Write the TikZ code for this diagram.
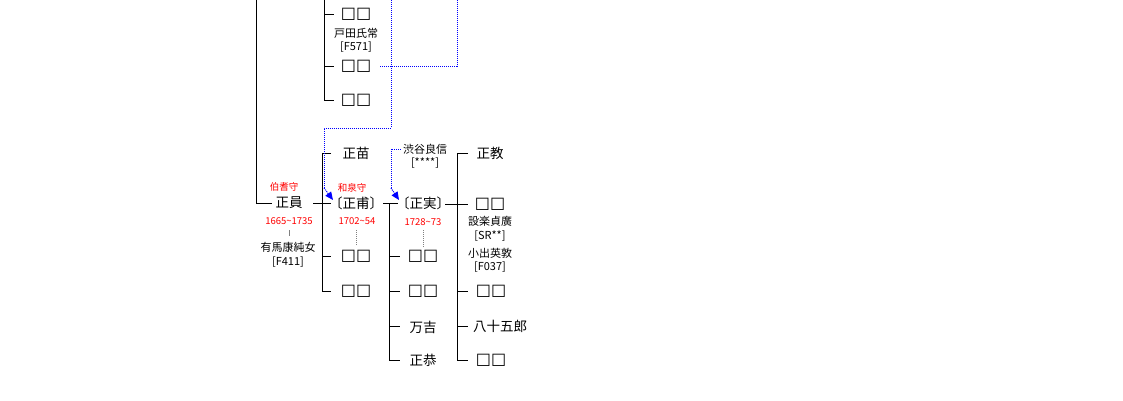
\documentclass[tikz,border=0pt]{standalone}
\usepackage{fontspec}
\newfontfamily\jp{Noto Sans CJK JP}
\newfontfamily\sqf{DejaVu Sans}
\usetikzlibrary{arrows.meta}
\begin{document}
\begin{tikzpicture}[x=1pt,y=-1pt,
 nm/.style={font=\jp\fontsize{13.5}{14}\selectfont, inner sep=0pt},
 sq/.style={font=\sqf\fontsize{16}{16}\selectfont, inner sep=0pt},
 sm/.style={font=\jp\fontsize{11}{12}\selectfont, inner sep=0pt},
 rd/.style={font=\jp\fontsize{9.5}{10}\selectfont, text=red, inner sep=0pt},
 ln/.style={line width=1pt, black},
 lnk/.style={blue, dash pattern=on 1pt off 1pt, line width=1pt},
 gtick/.style={gray, dash pattern=on 1pt off 1pt, line width=1pt},
 arr/.style={-{Triangle[length=8pt,width=7pt]}}]
\useasboundingbox[fill=white] (0,0) rectangle (1123,400);

% ---------- column 1 ----------
\node[nm] (seiin) at (289,203) {正員};
\node[rd] (hoki) at (284,187) {伯耆守};
\node[rd] (d1) at (289,221) {1665\textasciitilde1735};
\node[sm] (w1) at (288,247) {有馬康純女};
\node[sm] (w1id) at (288,262) {[F411]};
\draw[gray,line width=0.8pt] (289,230) -- (289,236);
\coordinate (c1top) at (256,0);
\draw[ln] (c1top) |- (272,203);

% ---------- upper column 2 ----------
\node[sq] (u1) at (356,14) {□□};
\node[sm] (toda) at (356,33) {戸田氏常};
\node[sm] (todaid) at (356,47) {[F571]};
\node[sq] (u2) at (356,66) {□□};
\node[sq] (u3) at (356,100) {□□};
\coordinate (c2top) at (324,0);
\draw[ln] (c2top) -- (324,100) -- (334,100);
\draw[ln] (324,14) -- (334,14);
\draw[ln] (324,66) -- (334,66);
\coordinate (lk1a) at (457,0);
\coordinate (lk1s) at (380,66);
\draw[lnk] (lk1s) -- (457,66) -- (lk1a);

% ---------- column 2 (children of 正員) ----------
\node[nm] (naeo) at (356,153) {正苗};
\node[nm] (masasuke) at (356,203) {〔正甫〕};
\node[rd] (izumi) at (352,188) {和泉守};
\node[rd] (d2) at (357,221) {1702\textasciitilde54};
\node[sq] (m1) at (356,256) {□□};
\node[sq] (m2) at (356,291) {□□};
\draw[gtick] (356,230) -- (356,246);
\draw[ln] (313,203) -- (331,203);
\draw[ln] (331,153) -- (322,153) -- (322,291) -- (331,291);
\draw[ln] (322,256) -- (331,256);
\coordinate (lk2a) at (391,0);
\draw[lnk] (lk2a) -- (391,128) -- (324,128) -- (324,188);
\draw[lnk,arr,blue] (324,188) -- (333,200);

% ---------- column 3 (children of 正甫) ----------
\node[nm] (masazane) at (423,203) {〔正実〕};
\node[sm] (shibuya) at (425,149) {渋谷良信};
\node[sm] (shibuyaid) at (425,163) {[****]};
\node[rd] (d3) at (423,222) {1728\textasciitilde73};
\draw[gtick] (423,230) -- (423,247);
\node[sq] (k1) at (423,256) {□□};
\node[sq] (k2) at (423,291) {□□};
\node[nm] (manki) at (423,327) {万吉};
\node[nm] (masayasu) at (423,360) {正恭};
\draw[ln] (383,203) -- (398,203);
\draw[ln] (389,203) -- (389,360) -- (400,360);
\draw[ln] (389,256) -- (400,256);
\draw[ln] (389,291) -- (400,291);
\draw[ln] (389,326) -- (400,326);
\draw[lnk] (shibuya.west) ++(-2,0) -- (391,149) -- (391,188);
\draw[lnk,arr,blue] (391,188) -- (399,200);

% ---------- column 4 (children of 正実) ----------
\node[nm] (masanori) at (490,153) {正教};
\node[sq] (j1) at (490,204) {□□};
\node[sm] (shitara) at (490,221) {設楽貞廣};
\node[sm] (shitaraid) at (490,236) {[SR**]};
\node[sm] (koide) at (490,253) {小出英敦};
\node[sm] (koideid) at (490,267) {[F037]};
\node[sq] (j2) at (491,291) {□□};
\node[nm] (yaso) at (500,326) {八十五郎};
\node[sq] (j3) at (491,360) {□□};
\draw[ln] (445,204) -- (468,204);
\draw[ln] (468,153) -- (457,153) -- (457,360) -- (468,360);
\draw[ln] (457,291) -- (468,291);
\draw[ln] (457,326) -- (468,326);
\end{tikzpicture}
\end{document}
